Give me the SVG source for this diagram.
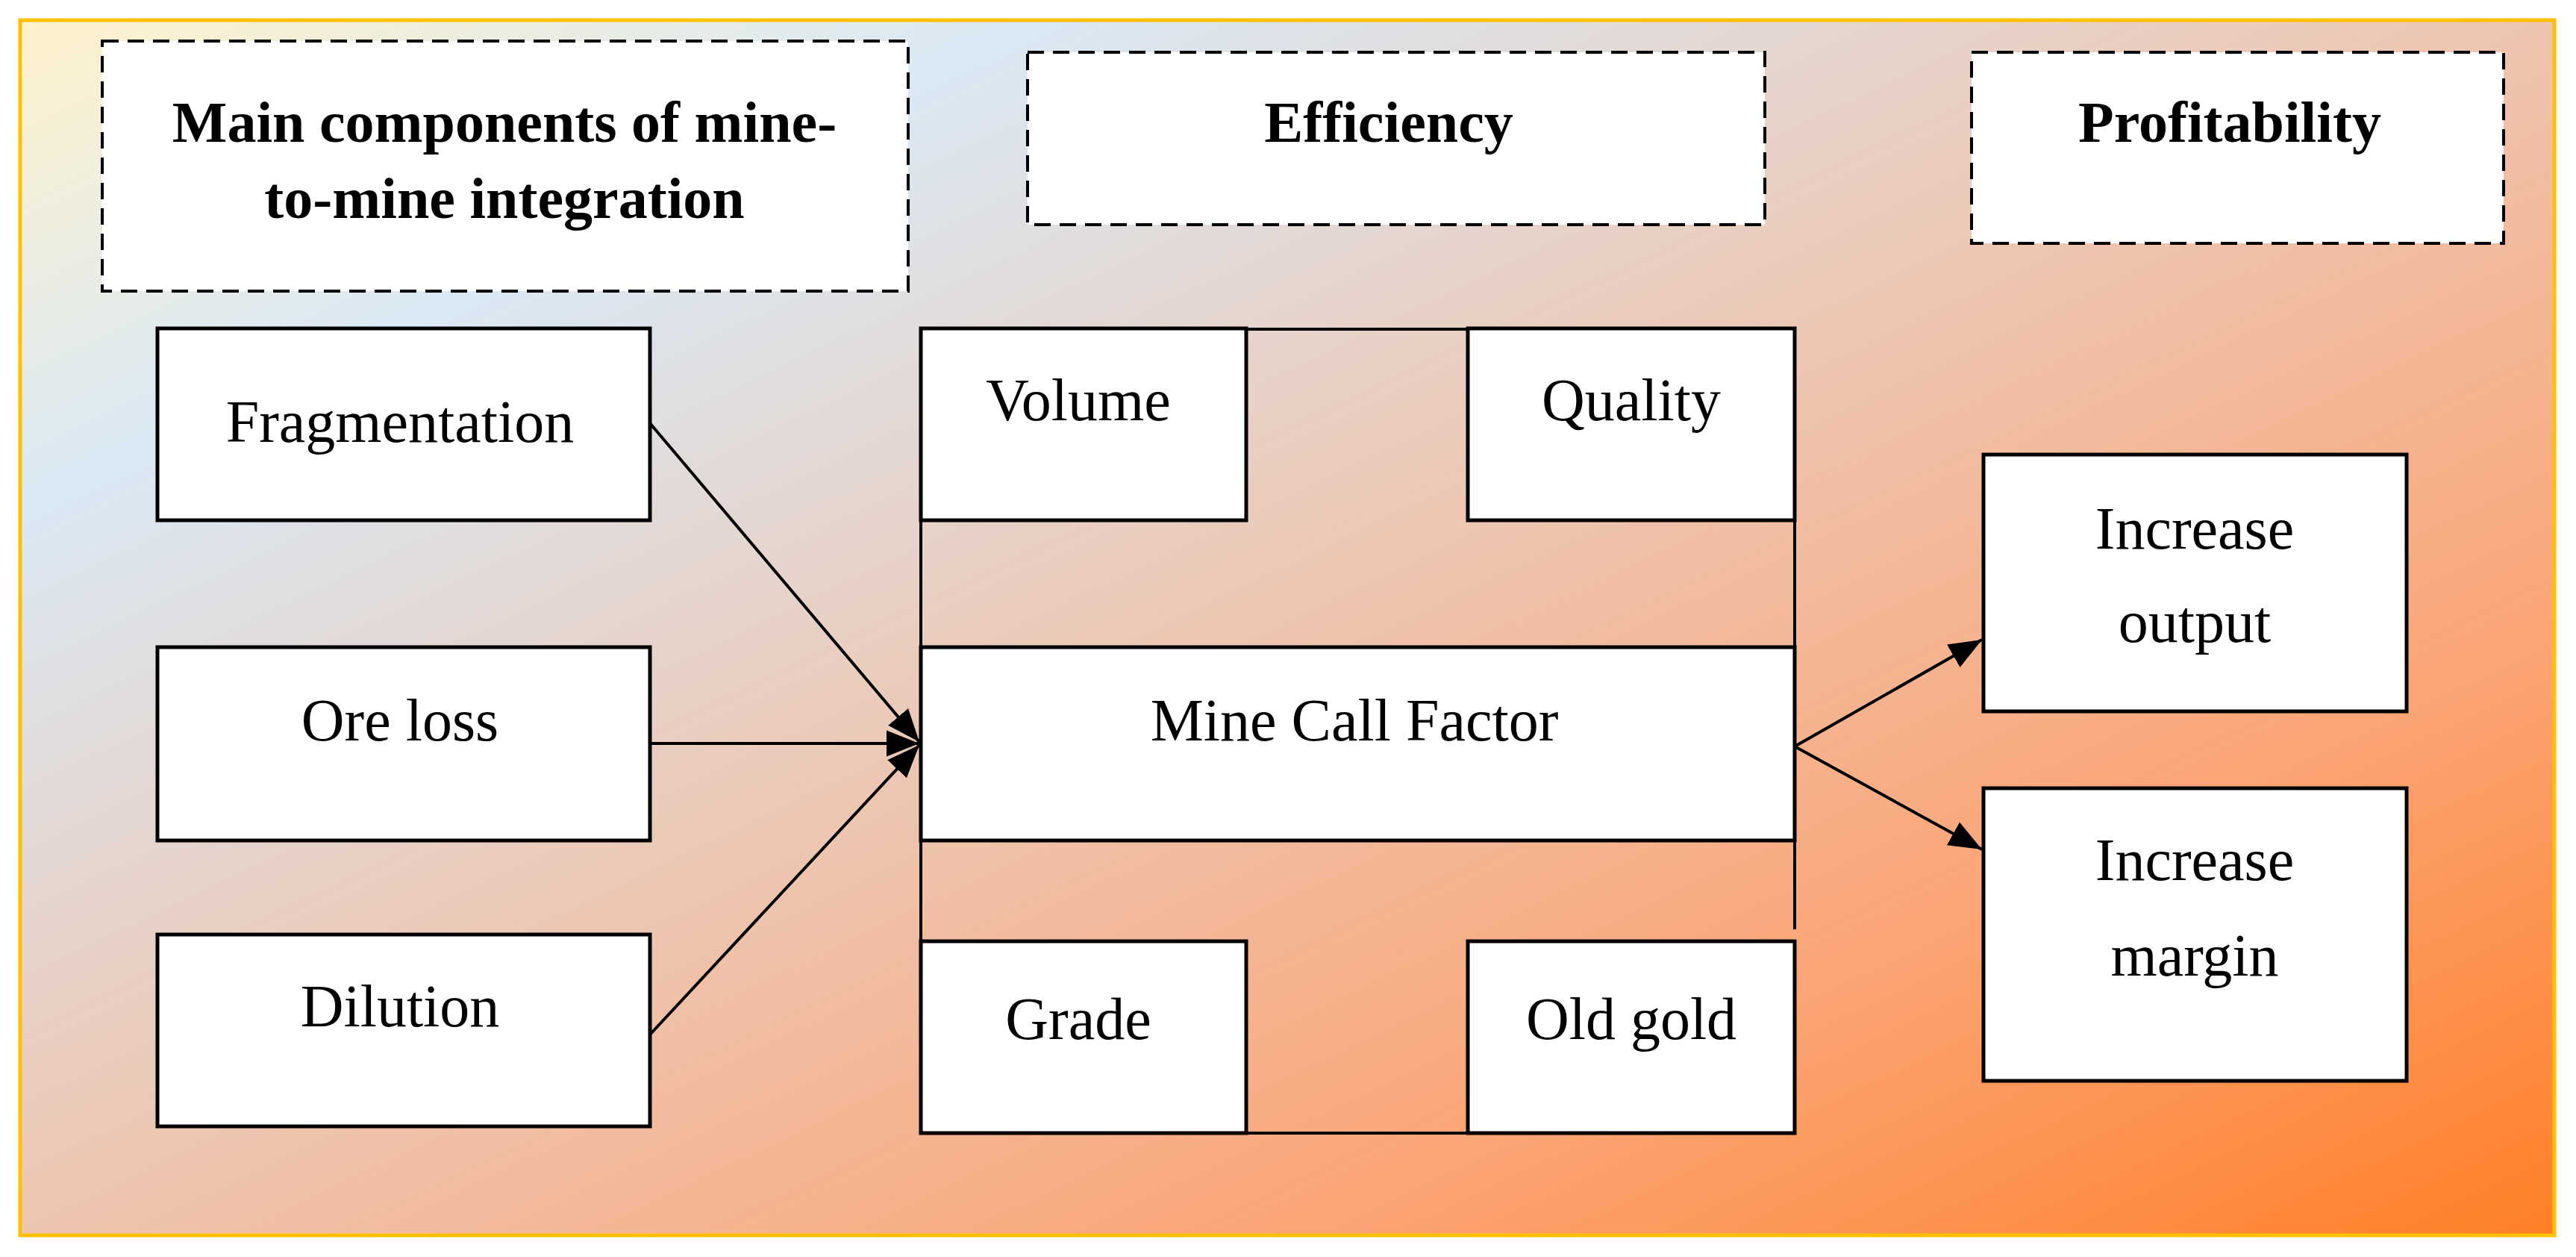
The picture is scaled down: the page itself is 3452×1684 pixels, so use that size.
<svg xmlns="http://www.w3.org/2000/svg" width="3452" height="1684" viewBox="0 0 3452 1684">
<defs>
<linearGradient id="bg" x1="0" y1="0" x2="1" y2="1">
<stop offset="0" stop-color="#FFF2CC"/>
<stop offset="0.2" stop-color="#DAE9F5"/>
<stop offset="0.45" stop-color="#EBCBBB"/>
<stop offset="0.75" stop-color="#FBA576"/>
<stop offset="1" stop-color="#FF7F27"/>
</linearGradient>
<marker id="ah2" viewBox="0 0 10 10" refX="10" refY="5" markerWidth="44" markerHeight="44" markerUnits="userSpaceOnUse" orient="auto">
<path d="M0,1 L10,5 L0,9 z" fill="#000"/>
</marker>
</defs>
<style>
.b{fill:#fff;stroke:#000;stroke-width:5}
.d{fill:#fff;stroke:#000;stroke-width:4;stroke-dasharray:22,12}
.t{font-family:"Liberation Serif",serif;font-size:80px;text-anchor:middle;fill:#000}
.h{font-family:"Liberation Serif",serif;font-size:78px;font-weight:bold;text-anchor:middle;fill:#000}
.l{stroke:#000;stroke-width:4;fill:none}
</style>
<rect x="0" y="0" width="3452" height="1684" fill="#fff"/>
<rect x="27" y="27" width="3396" height="1628" fill="url(#bg)" stroke="#FFC000" stroke-width="5"/>
<g id="hdr-main"><rect class="d" x="137" y="55" width="1080" height="335"/><text class="h" x="676" y="190">Main components of mine-</text><text class="h" x="676" y="292">to-mine integration</text></g>
<g id="hdr-eff"><rect class="d" x="1377" y="70" width="988" height="231"/><text class="h" x="1861" y="190">Efficiency</text></g>
<g id="hdr-prof"><rect class="d" x="2642" y="70" width="713" height="256"/><text class="h" x="2988" y="190">Profitability</text></g>
<g id="frame"><path class="l" d="M1670,441 H1967 M1234,697 V867 M2405,697 V867 M1234,1126 V1261 M2405,1126 V1245 M1670,1518 H1967"/></g>
<g id="fragmentation"><rect class="b" x="211" y="440" width="660" height="257"/><text class="t" x="536" y="592">Fragmentation</text></g>
<g id="oreloss"><rect class="b" x="211" y="867" width="660" height="259"/><text class="t" x="536" y="992">Ore loss</text></g>
<g id="dilution"><rect class="b" x="211" y="1252" width="660" height="257"/><text class="t" x="536" y="1375">Dilution</text></g>
<g id="volume"><rect class="b" x="1234" y="440" width="436" height="257"/><text class="t" x="1445" y="563">Volume</text></g>
<g id="quality"><rect class="b" x="1967" y="440" width="438" height="257"/><text class="t" x="2186" y="563">Quality</text></g>
<g id="mcf"><rect class="b" x="1234" y="867" width="1171" height="259"/><text class="t" x="1815" y="992">Mine Call Factor</text></g>
<g id="grade"><rect class="b" x="1234" y="1261" width="436" height="257"/><text class="t" x="1445" y="1392">Grade</text></g>
<g id="oldgold"><rect class="b" x="1967" y="1261" width="438" height="257"/><text class="t" x="2186" y="1392">Old gold</text></g>
<g id="incout"><rect class="b" x="2658" y="609" width="567" height="344"/><text class="t" x="2941" y="735">Increase</text><text class="t" x="2941" y="860">output</text></g>
<g id="incmar"><rect class="b" x="2658" y="1056" width="567" height="392"/><text class="t" x="2941" y="1179">Increase</text><text class="t" x="2941" y="1307">margin</text></g>
<g id="connectors">
<line class="l" x1="871" y1="567" x2="1232" y2="994" marker-end="url(#ah2)" stroke-width="3"/>
<line class="l" x1="871" y1="996" x2="1232" y2="996" marker-end="url(#ah2)"/>
<line class="l" x1="871" y1="1386" x2="1232" y2="998" marker-end="url(#ah2)" stroke-width="3"/>
<line class="l" x1="2405" y1="1000" x2="2656" y2="857" marker-end="url(#ah2)" stroke-width="3"/>
<line class="l" x1="2405" y1="1000" x2="2656" y2="1138" marker-end="url(#ah2)" stroke-width="3"/>
</g>
</svg>
